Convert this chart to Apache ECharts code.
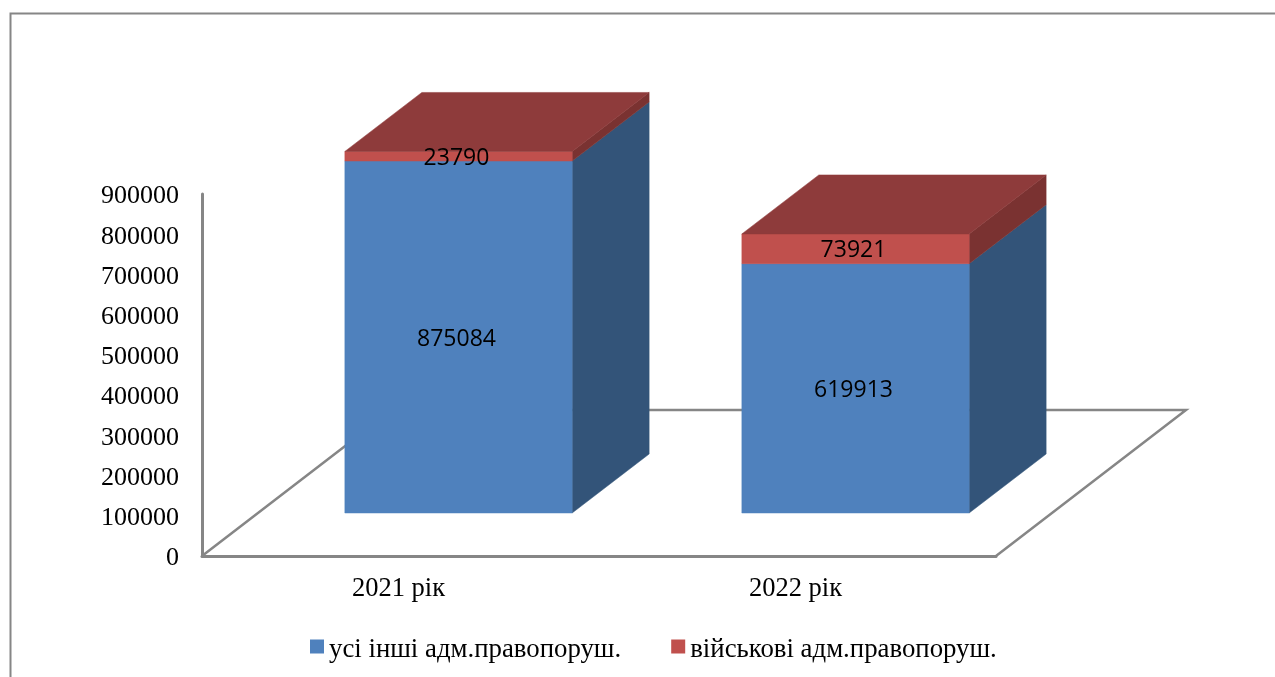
<!DOCTYPE html>
<html><head><meta charset="utf-8">
<style>html,body{margin:0;padding:0;background:#fff}#c{width:1275px;height:677px}</style>
<script src="https://cdn.jsdelivr.net/npm/echarts@6/dist/echarts.min.js"></script>
</head><body><div id="c"></div>
<script>
const categories = ['2021 рік', '2022 рік'];
const seriesNames = ['усі інші адм.правопоруш.', 'військові адм.правопоруш.'];
const otherOffences = [875084, 619913];
const militaryOffences = [23790, 73921];

const serif = '"Liberation Serif","Times New Roman",serif';
const grey = '#868686';
const depth = [77, -59];        // bar depth on screen
const floorDepth = [190, -146]; // floor depth on screen
const barShift = [58, -43];     // bars stand part way back on the floor
const barRatio = 0.5725;

function poly(pts, fill) {
  return { type: 'polygon', shape: { points: pts }, style: { fill: fill, stroke: fill, lineWidth: 0.5 } };
}
function boxItem(values, bases, colors, withTop) {
  return function (params, api) {
    const i = api.value(0);
    const v = values[i], b = bases[i];
    const w = api.size([1, 0])[0] * barRatio;
    const p0 = api.coord([i, b]), p1 = api.coord([i, b + v]);
    const l = p0[0] + barShift[0] - w / 2, r = l + w;
    const y0 = p0[1] + barShift[1], y1 = p1[1] + barShift[1];
    const dx = depth[0], dy = depth[1];
    const kids = [
      poly([[r, y0], [r + dx, y0 + dy], [r + dx, y1 + dy], [r, y1]], colors.side),
      poly([[l, y0], [r, y0], [r, y1], [l, y1]], colors.front)
    ];
    if (withTop) kids.push(poly([[l, y1], [r, y1], [r + dx, y1 + dy], [l + dx, y1 + dy]], colors.top));
    kids.push({
      type: 'text',
      style: {
        text: String(v), x: (l + r) / 2 - 2, y: (y0 + y1) / 2 + 2,
        fill: '#000', align: 'center', verticalAlign: 'middle',
        font: '23px "Open Sans","Noto Sans",sans-serif'
      }
    });
    return { type: 'group', children: kids };
  };
}

const chart = echarts.init(document.getElementById('c'), null, { renderer: 'canvas' });
chart.setOption({
  animation: false,
  backgroundColor: '#fff',
  grid: { left: 202, top: 194, width: 794, height: 362 },
  legend: {
    left: 305, top: 631, icon: 'rect', itemWidth: 14, itemHeight: 14, itemGap: 50,
    data: seriesNames,
    selectedMode: false,
    formatter: function (n) { return '{a|' + n + '}'; },
    textStyle: {
      fontFamily: serif, fontSize: 26.8, color: '#000',
      rich: { a: { fontFamily: serif, fontSize: 26.8, color: '#000', padding: [6, 0, 0, 0] } }
    }
  },
  xAxis: {
    type: 'category', data: categories,
    axisTick: { show: false },
    axisLine: { show: true, lineStyle: { color: grey, width: 3 } },
    axisLabel: { fontFamily: serif, fontSize: 26.5, color: '#000', margin: 20, padding: [0, 4, 0, 0] }
  },
  yAxis: {
    type: 'value', min: 0, max: 900000, interval: 100000,
    splitLine: { show: false },
    axisTick: { show: false },
    axisLine: { show: true, lineStyle: { color: grey, width: 3 } },
    axisLabel: {
      fontFamily: serif, fontSize: 26, color: '#000', margin: 23,
      verticalAlign: 'top', lineHeight: 5,
      formatter: function (v) { return String(v); }
    }
  },
  graphic: [{
    type: 'polyline', silent: true, z: -1,
    shape: { points: [[10.5, 677], [10.5, 13.5], [1275, 13.5]] },
    style: { stroke: grey, lineWidth: 2, fill: null }
  }],
  series: [
    {
      name: 'floor', type: 'custom', z: 1, silent: true, data: [[0]],
      renderItem: function (params, api) {
        const cs = params.coordSys;
        const x0 = cs.x, x1 = cs.x + cs.width, y = cs.y + cs.height;
        const fx = floorDepth[0], fy = floorDepth[1];
        return {
          type: 'polyline',
          shape: { points: [[x0, y], [x0 + fx, y + fy], [x1 + fx, y + fy], [x1, y]] },
          style: { stroke: grey, lineWidth: 2.5, fill: null }
        };
      }
    },
    {
      name: seriesNames[0], type: 'custom', z: 2, silent: true,
      itemStyle: { color: '#4F81BD' },
      data: categories.map((c, i) => [i]),
      renderItem: boxItem(otherOffences, [0, 0], { front: '#4F81BD', side: '#335479' }, false)
    },
    {
      name: seriesNames[1], type: 'custom', z: 3, silent: true,
      itemStyle: { color: '#C0504D' },
      data: categories.map((c, i) => [i]),
      renderItem: boxItem(militaryOffences, otherOffences, { front: '#C0504D', side: '#7A3231', top: '#8E3B3B' }, true)
    }
  ]
});
</script></body></html>
